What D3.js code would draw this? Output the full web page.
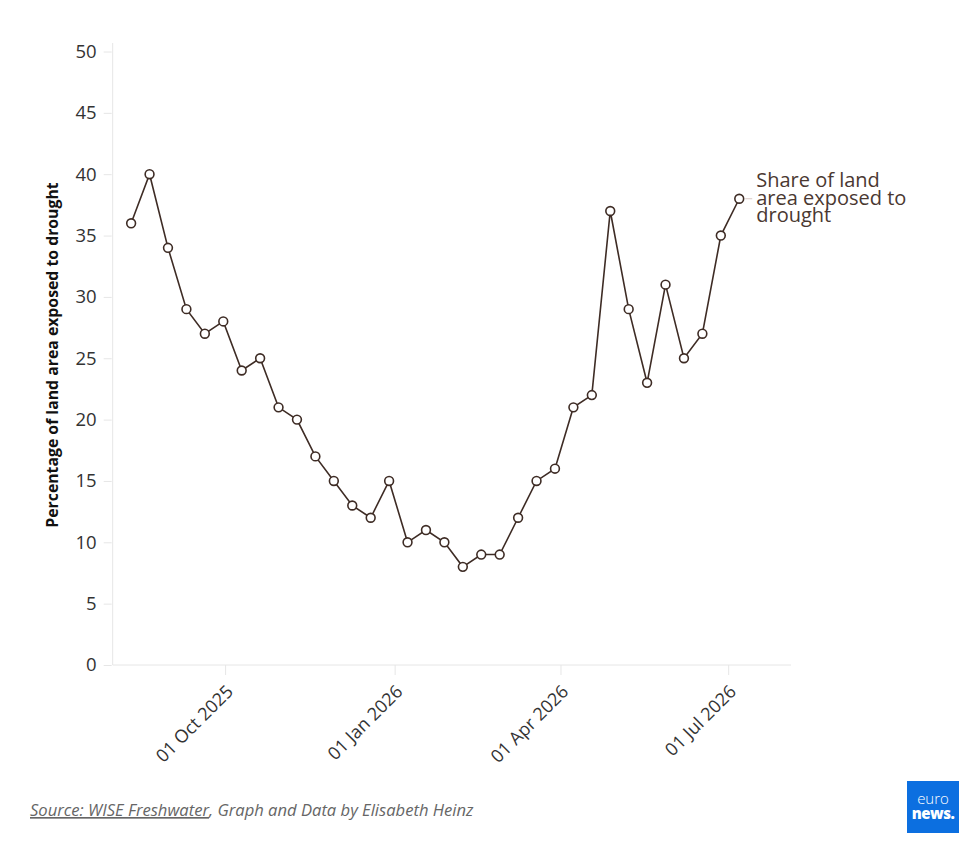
<!DOCTYPE html>
<html>
<head>
<meta charset="utf-8">
<script src="https://cdn.jsdelivr.net/npm/d3@7"></script>
<style>
  body{margin:0;background:#fff;font-family:"Open Sans",sans-serif;}
  .axis text{font-family:"Open Sans",sans-serif;fill:#333;}
  .axis path,.axis line{stroke:#e6e6e6;}
</style>
</head>
<body>
<div id="chart"></div>
<script>
// every ten days
var dates = ["2025-08-11","2025-08-21","2025-08-31","2025-09-10","2025-09-20","2025-09-30",
  "2025-10-10","2025-10-20","2025-10-30","2025-11-09","2025-11-19","2025-11-29",
  "2025-12-09","2025-12-19","2025-12-29","2026-01-08","2026-01-18","2026-01-28",
  "2026-02-07","2026-02-17","2026-02-27","2026-03-09","2026-03-19","2026-03-29",
  "2026-04-08","2026-04-18","2026-04-28","2026-05-08","2026-05-18","2026-05-28",
  "2026-06-07","2026-06-17","2026-06-27","2026-07-07"];
var shares = [36,40,34,29,27,28,24,25,21,20,17,15,13,12,15,10,11,10,8,9,9,12,15,16,
  21,22,37,29,23,31,25,27,35,38];
var xTicks = ["2025-10-01","2026-01-01","2026-04-01","2026-07-01"];
var yTicks = [0,5,10,15,20,25,30,35,40,45,50];
var xDomain = ["2025-08-01","2026-08-03"];
var seriesLabel = ["Share of land","area exposed to","drought"];
var yTitle = "Percentage of land area exposed to drought";

var parse = d3.timeParse("%Y-%m-%d");
var data = dates.map(function(d,i){ return {date:parse(d),value:shares[i]}; });

var W = 980, H = 862;
var brown = "#3e2c25";

var svg = d3.select("#chart").append("svg").attr("width",W).attr("height",H);

var x = d3.scaleTime().domain(xDomain.map(parse)).range([112.7,789]);
var y = d3.scaleLinear().domain([0,50]).range([665,51.5]);

// y axis
var gy = svg.append("g").attr("class","axis").attr("transform","translate(112.7,0)")
  .call(d3.axisLeft(y).tickValues(yTicks).tickSize(8).tickPadding(8));
gy.select(".domain").remove();
gy.append("line").attr("y1",43).attr("y2",665).attr("stroke","#e6e6e6");
gy.selectAll(".tick line").attr("x1",-9).attr("x2",-1);
gy.selectAll("text").style("font-size","18.5px");

// x axis
var gx = svg.append("g").attr("class","axis").attr("transform","translate(0,665)")
  .call(d3.axisBottom(x).tickValues(xTicks.map(parse)).tickSize(10).tickFormat(d3.timeFormat("%d %b %Y")));
gx.select(".domain").attr("d","M112.7,0H791");
gx.selectAll("text")
  .style("font-size","18px")
  .attr("text-anchor","end")
  .attr("dy","0.35em")
  .attr("transform","translate(-5,14) rotate(-45)");

svg.append("text")
  .attr("transform","translate(58,355) rotate(-90)")
  .attr("text-anchor","middle")
  .style("font-size","15.8px")
  .style("font-weight","bold")
  .style("fill","#111")
  .text(yTitle);

// line + dots
var line = d3.line().x(function(d){return x(d.date)}).y(function(d){return y(d.value)});
svg.append("path").datum(data)
  .attr("d",line)
  .attr("fill","none")
  .attr("stroke",brown)
  .attr("stroke-width",1.6);

svg.selectAll(".dot").data(data).enter().append("circle")
  .attr("class","dot")
  .attr("cx",function(d){return x(d.date)})
  .attr("cy",function(d){return y(d.value)})
  .attr("r",4.4)
  .attr("fill","#fff")
  .attr("stroke",brown)
  .attr("stroke-width",1.6);

// end label
var last = data[data.length-1];
var lx = x(last.date), ly = y(last.value);
svg.append("line")
  .attr("x1",lx+6).attr("x2",lx+13).attr("y1",ly).attr("y2",ly)
  .attr("stroke","#d9c9c3").attr("stroke-width",1);
svg.append("text")
  .attr("x",lx+17).attr("y",ly-11.5)
  .style("font-size","20px")
  .style("fill","#4a3831")
  .selectAll("tspan").data(seriesLabel).enter().append("tspan")
  .attr("x",lx+17)
  .attr("dy",function(d,i){return i?17.5:0})
  .text(function(d){return d});

// footer
var foot = svg.append("text").attr("x",30).attr("y",816)
  .style("font-size","16.6px").style("font-style","italic").style("fill","#666");
foot.append("tspan").style("text-decoration","underline").text("Source: WISE Freshwater");
foot.append("tspan").text(", Graph and Data by Elisabeth Heinz");

// logo
var logo = svg.append("g").attr("transform","translate(907,781)");
logo.append("rect").attr("width",52).attr("height",52).attr("fill","#0c6fe0");
logo.append("text").attr("x",26).attr("y",23).attr("text-anchor","middle")
  .style("font-size","15px").style("font-weight",300).style("fill","#fff").text("euro");
logo.append("text").attr("x",26).attr("y",38).attr("text-anchor","middle")
  .style("font-size","15px").style("font-weight",800).style("letter-spacing","-0.5px").style("fill","#fff").text("news.");
</script>
</body>
</html>
